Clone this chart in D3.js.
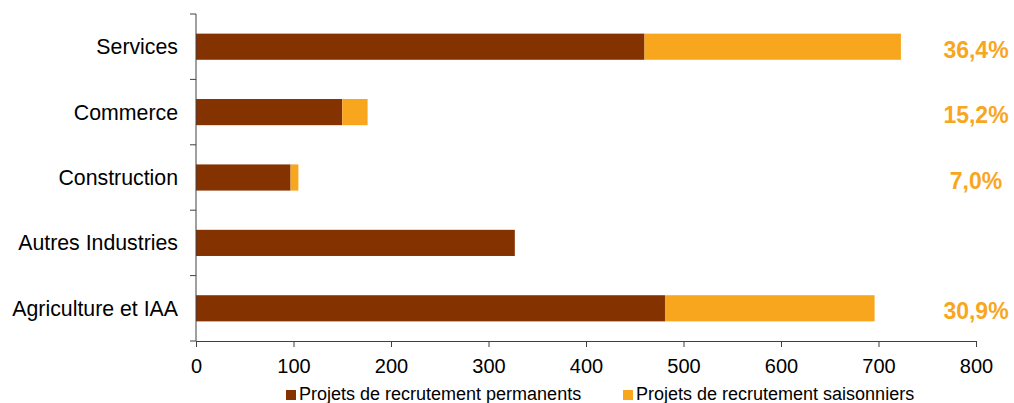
<!DOCTYPE html>
<html>
<head>
<meta charset="utf-8">
<script src="https://cdn.jsdelivr.net/npm/d3@7"></script>
<style>
  body { margin: 0; background: #fff; }
  text { font-family: "Liberation Sans", Arial, sans-serif; }
</style>
</head>
<body>
<div id="chart"></div>
<script>
// data
const categories = ["Services", "Commerce", "Construction", "Autres Industries", "Agriculture et IAA"];
const permanents = [460, 150, 97, 327, 481];
const saisonniers = [263, 26, 8, 0, 215];
const shareLabels = ["36,4%", "15,2%", "7,0%", "", "30,9%"];
const seriesNames = ["Projets de recrutement permanents", "Projets de recrutement saisonniers"];
const xTicks = [0, 100, 200, 300, 400, 500, 600, 700, 800];

const colors = ["#843300", "#F9A61F"];

let dimensions = {
  width: 1014,
  height: 403,
  margin: { top: 14, right: 38, bottom: 62, left: 196 },
};
dimensions.boundedWidth = dimensions.width - dimensions.margin.left - dimensions.margin.right;
dimensions.boundedHeight = dimensions.height - dimensions.margin.top - dimensions.margin.bottom;

const wrapper = d3.select("#chart")
  .append("svg")
  .attr("width", dimensions.width)
  .attr("height", dimensions.height);

const bounds = wrapper.append("g")
  .attr("transform", `translate(${dimensions.margin.left},${dimensions.margin.top})`);

const x = d3.scaleLinear().domain([0, 800]).range([0, dimensions.boundedWidth]);
const y = d3.scaleBand().domain(categories).range([0, dimensions.boundedHeight]).paddingInner(0.6).paddingOuter(0.3);

const rows = categories.map((c, i) => ({ cat: c, perm: permanents[i], sais: saisonniers[i], label: shareLabels[i] }));

// bars
bounds.selectAll(".perm")
  .data(rows)
  .join("rect")
  .attr("class", "perm")
  .attr("x", x(0))
  .attr("y", d => y(d.cat))
  .attr("width", d => x(d.perm) - x(0))
  .attr("height", y.bandwidth())
  .attr("fill", colors[0]);

bounds.selectAll(".sais")
  .data(rows.filter(d => d.sais > 0))
  .join("rect")
  .attr("class", "sais")
  .attr("x", d => x(d.perm))
  .attr("y", d => y(d.cat))
  .attr("width", d => x(d.perm + d.sais) - x(d.perm))
  .attr("height", y.bandwidth())
  .attr("fill", colors[1]);

// share labels
bounds.selectAll(".share")
  .data(rows)
  .join("text")
  .attr("class", "share")
  .attr("x", dimensions.boundedWidth)
  .attr("y", d => y(d.cat) + y.bandwidth() / 2 + 11)
  .attr("text-anchor", "middle")
  .attr("fill", colors[1])
  .style("font-size", "23px")
  .style("font-weight", "bold")
  .text(d => d.label);

// y axis (category boundaries as ticks)
const step = dimensions.boundedHeight / categories.length;
bounds.append("line")
  .attr("x1", 0).attr("x2", 0)
  .attr("y1", 0).attr("y2", dimensions.boundedHeight)
  .attr("stroke", "#404040");

bounds.selectAll(".ytick")
  .data(d3.range(categories.length + 1))
  .join("line")
  .attr("class", "ytick")
  .attr("x1", -6).attr("x2", 0)
  .attr("y1", d => d * step).attr("y2", d => d * step)
  .attr("stroke", "#404040");

bounds.selectAll(".ylabel")
  .data(categories)
  .join("text")
  .attr("class", "ylabel")
  .attr("x", -18)
  .attr("y", d => y(d) + y.bandwidth() / 2)
  .attr("dy", "0.35em")
  .attr("text-anchor", "end")
  .attr("fill", "#000")
  .style("font-size", "21.3px")
  .text(d => d);

// x axis
const xAxisGenerator = d3.axisBottom(x).tickValues(xTicks).tickSize(6).tickPadding(12);
const xAxis = bounds.append("g")
  .attr("transform", `translate(0,${dimensions.boundedHeight})`)
  .call(xAxisGenerator);
xAxis.select(".domain").attr("stroke", "#404040").attr("d", `M0,0.5H${dimensions.boundedWidth}`);
xAxis.selectAll(".tick line").attr("stroke", "#404040");
xAxis.selectAll(".tick text")
  .attr("fill", "#000")
  .style("font-family", "'Liberation Sans', Arial, sans-serif")
  .style("font-size", "20px");

// legend
const legend = wrapper.append("g").attr("transform", "translate(286,390)");
const legendX = [0, 337];
seriesNames.forEach((name, i) => {
  const g = legend.append("g").attr("transform", `translate(${legendX[i]},0)`);
  g.append("rect").attr("width", 10).attr("height", 10).attr("fill", colors[i]);
  g.append("text")
    .attr("x", 13)
    .attr("y", 10)
    .attr("fill", "#000")
    .style("font-size", "18px")
    .text(name);
});
</script>
</body>
</html>
